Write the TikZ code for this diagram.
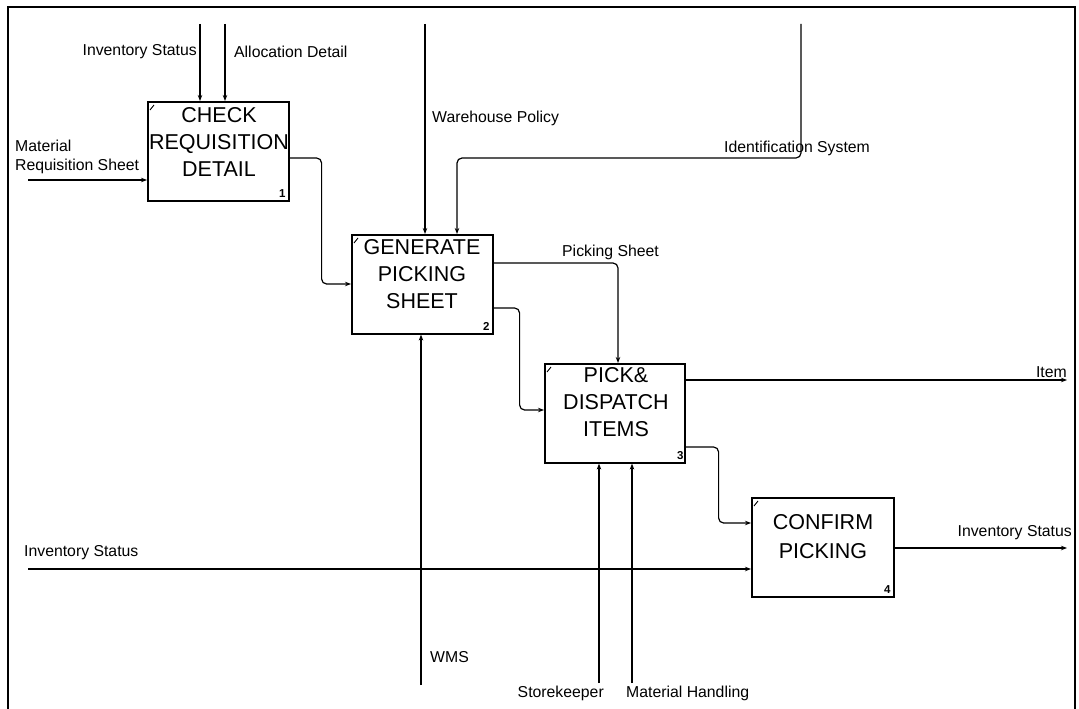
\documentclass[tikz,border=0pt]{standalone}
\usepackage{fontspec}
\setmainfont{Liberation Sans}
\usetikzlibrary{arrows.meta,calc}
\tikzset{
  box/.style={draw, line width=1.6pt, anchor=north west, inner sep=0pt},
  boxtext/.style={align=center, inner sep=0pt, font=\fontsize{21.5}{27}\selectfont},
  lbl/.style={inner sep=0pt, font=\fontsize{15.8}{19.5}\selectfont},
  num/.style={inner sep=0pt, anchor=south east, font=\fontsize{11.5}{13}\selectfont\bfseries},
  flow/.style={line width=1.2pt, -{Stealth[length=6pt,width=4.5pt]}},
  tickmark/.style={line width=0.9pt},
  frame/.style={line width=1.8pt}
}
\begin{document}
\begin{tikzpicture}[x=1pt,y=-1pt]
\useasboundingbox (0,0) rectangle (1079,709);
\draw[frame] (8,712) -- (8,7) -- (1075,7) -- (1075,712);

% boxes
\node[box, minimum width=141pt, minimum height=99pt] (b1) at (147,101) {};
\node[box, minimum width=141pt, minimum height=99pt] (b2) at (351,234) {};
\node[box, minimum width=140pt, minimum height=99pt] (b3) at (544,363) {};
\node[box, minimum width=142pt, minimum height=99pt] (b4) at (751,497) {};

% box texts
\node[boxtext] (t1) at (219,142) {CHECK\\REQUISITION\\DETAIL};
\node[boxtext] (t2) at (422,274) {GENERATE\\PICKING\\SHEET};
\node[boxtext] (t3) at (616,402) {PICK\&\\DISPATCH\\ITEMS};
\node[boxtext, font=\fontsize{21.5}{29}\selectfont] (t4) at (823,537) {CONFIRM\\PICKING};

% numbers
\node[num] (n1) at ($(b1.south east)+(-4,-4)$) {1};
\node[num] (n2) at ($(b2.south east)+(-4,-4)$) {2};
\node[num] (n3) at ($(b3.south east)+(-2,-4)$) {3};
\node[num] (n4) at ($(b4.south east)+(-4,-4)$) {4};

% corner ticks
\foreach \b in {b1,b2,b3,b4}{
  \draw[tickmark] ($(\b.north west)+(3,9)$) -- ++(4,-5);
}

% free ends
\coordinate (c1) at (200,24);
\coordinate (c2) at (225,24);
\coordinate (c3) at (425,24);
\coordinate (c4) at (801,24);
\coordinate (i1) at (28,180);
\coordinate (i2) at (28,569);
\coordinate (m1) at (421,685);
\coordinate (m2) at (599,683);
\coordinate (m3) at (632,683);
\coordinate (o1) at (1067,380);
\coordinate (o2) at (1067,548);

% controls
\draw[flow] (c1) -- (c1 |- b1.north);
\draw[flow] (c2) -- (c2 |- b1.north);
\draw[flow] (c3) -- (c3 |- b2.north);
\draw[flow, rounded corners=5pt] (c4) -- ++(0,134) -| ($(b2.north west)+(106,0)$);
\draw[flow, rounded corners=5pt] ($(b2.north east)+(0,29)$) -| ($(b3.north west)+(74,0)$);

% inputs
\draw[flow] (i1) -- (i1 -| b1.west);
\draw[flow] (i2) -- (i2 -| b4.west);
\draw[flow, rounded corners=5pt] ($(b1.north east)+(0,57)$) -- ++(32,0) |- ($(b2.north west)+(0,50)$);
\draw[flow, rounded corners=5pt] ($(b2.north east)+(0,74)$) -- ++(26,0) |- ($(b3.north west)+(0,47)$);
\draw[flow, rounded corners=5pt] ($(b3.north east)+(0,84)$) -- ++(33,0) |- ($(b4.north west)+(0,26)$);

% mechanisms
\draw[flow] (m1) -- (m1 |- b2.south);
\draw[flow] (m2) -- (m2 |- b3.south);
\draw[flow] (m3) -- (m3 |- b3.south);

% outputs
\draw[flow] (b3.east |- o1) -- (o1);
\draw[flow] (b4.east |- o2) -- (o2);

% labels
\node[lbl, anchor=east] (l1) at (197,52) {Inventory Status};
\node[lbl, anchor=west] (l2) at (234,52) {Allocation Detail};
\node[lbl, anchor=west, align=left] (l3) at (15,157) {Material\\Requisition Sheet};
\node[lbl, anchor=west] (l4) at (432,118) {Warehouse Policy};
\node[lbl] (l5) at (797,148) {Identification System};
\node[lbl, anchor=west] (l6) at (562,252) {Picking Sheet};
\node[lbl, anchor=west] (l7) at (430,657) {WMS};
\node[lbl, anchor=east] (l8) at (1067,372) {Item};
\node[lbl, anchor=east] (l9) at (1072,533) {Inventory Status};
\node[lbl, anchor=west] (l10) at (24,553) {Inventory Status};
\node[lbl, anchor=east] (l11) at (604,693) {Storekeeper};
\node[lbl, anchor=west] (l12) at (626,693) {Material Handling};
\end{tikzpicture}
\end{document}
